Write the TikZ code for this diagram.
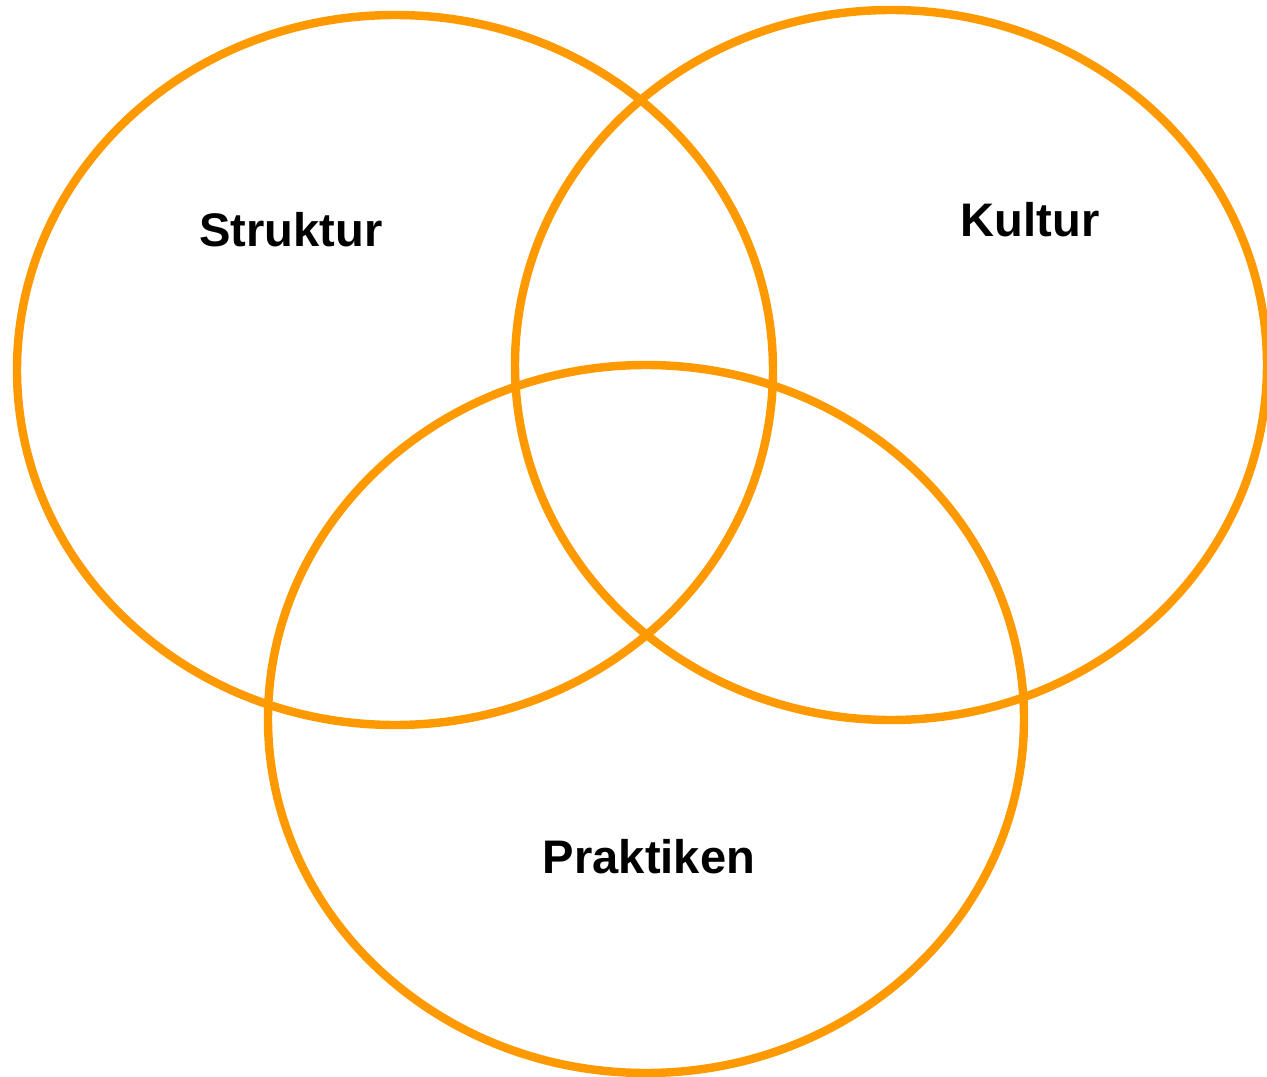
\documentclass[tikz,border=0pt]{standalone}
\usepackage{fontspec}
\setmainfont{Liberation Sans}
\usetikzlibrary{shapes.geometric, positioning}
\definecolor{vennorange}{HTML}{FF9900}

\begin{document}
\begin{tikzpicture}[
    set/.style={ellipse, draw=vennorange, line width=2.4pt, inner sep=0pt, minimum width=7.56cm, minimum height=7.1cm},
    setlabel/.style={font=\fontsize{13.4}{16}\selectfont\bfseries, text=black}
]
\useasboundingbox (0,0) rectangle (12.67,10.76);

\node[set] (struktur) at (3.95,7.06) {};
\node[set, minimum width=7.52cm] (kultur) at (8.91,7.11) {};
\node[set, minimum height=7.08cm] (praktiken) at (6.46,3.57) {};

\node[setlabel] (l1) at (2.91,8.46) {Struktur};
\node[setlabel] (l2) at (10.30,8.56) {Kultur};
\node[setlabel] (l3) at (6.49,2.19) {Praktiken};

\end{tikzpicture}
\end{document}
